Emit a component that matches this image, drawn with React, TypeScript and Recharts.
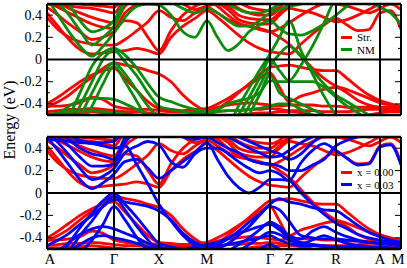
import React from 'react';
import { LineChart, Line, XAxis, YAxis, ReferenceLine, Legend } from 'recharts';

// k-path sample points (segments: A-Γ | Γ-X | X-M | M-Γ | Γ-Z | Z-R | R-A | A-M)
const K_PATH = [
  0, 11, 22, 33, 45, 56, 67,
  78, 90, 101, 112,
  124, 136, 148, 160,
  170.5, 181, 191.5, 202, 212.5, 223,
  232.5, 242,
  254, 265.5, 277, 289,
  300, 311, 322, 333,
  343.5, 354,
];
const K_TICKS = [0, 67, 112, 160, 223, 242, 289, 333, 354];
const K_LABELS = ['A', 'Γ', 'X', 'M', 'Γ', 'Z', 'R', 'A', 'M'];
const Y_TICKS = [-0.4, -0.3, -0.2, -0.1, 0, 0.1, 0.2, 0.3, 0.4];

const TOP_LEGEND = ['Str.', 'NM'];
const BOTTOM_LEGEND = ['x = 0.00', 'x = 0.03'];

// "Str." / x = 0.00 bands (red)
const STR_BANDS: number[][] = [
  [-0.49,-0.49,-0.48,-0.48,-0.47,-0.48,-0.49, -0.5,-0.51,-0.53,-0.55, -0.56,-0.56,-0.55,-0.54, -0.53,-0.51,-0.5,-0.49,-0.48,-0.48, -0.47,-0.47, -0.48,-0.5,-0.52,-0.55, -0.55,-0.53,-0.5,-0.48, -0.47,-0.47],
  [-0.47,-0.46,-0.45,-0.45,-0.44,-0.45,-0.46, -0.47,-0.47,-0.48,-0.49, -0.5,-0.5,-0.49,-0.48, -0.47,-0.46,-0.46,-0.45,-0.45,-0.44, -0.45,-0.46, -0.46,-0.46,-0.47,-0.47, -0.47,-0.46,-0.45,-0.45, -0.46,-0.47],
  [-0.42,-0.42,-0.41,-0.39,-0.34,-0.36,-0.42, -0.44,-0.45,-0.45,-0.46, -0.47,-0.47,-0.47,-0.46, -0.43,-0.41,-0.4,-0.39,-0.4,-0.41, -0.42,-0.41, -0.41,-0.41,-0.42,-0.42, -0.43,-0.43,-0.43,-0.43, -0.44,-0.45],
  [-0.4,-0.34,-0.27,-0.2,-0.14,-0.1,-0.08, -0.17,-0.28,-0.38,-0.44, -0.45,-0.46,-0.45,-0.44, -0.4,-0.35,-0.29,-0.23,-0.17,-0.12, -0.25,-0.38, -0.33,-0.3,-0.27,-0.25, -0.3,-0.37,-0.41,-0.43, -0.43,-0.44],
  [-0.43,-0.38,-0.32,-0.24,-0.16,-0.08,-0.03, -0.05,-0.07,-0.1,-0.13, -0.2,-0.32,-0.41,-0.46, -0.44,-0.38,-0.3,-0.22,-0.14,-0.07, -0.06,-0.05, -0.07,-0.09,-0.1,-0.1, -0.17,-0.25,-0.32,-0.37, -0.4,-0.42],
  [0.38,0.27,0.2,0.16,0.14,0.13,0.13, 0.18,0.26,0.34,0.44, 0.38,0.35,0.42,0.47, 0.42,0.36,0.32,0.3,0.28,0.25, 0.2,0.14, 0.03,-0.08,-0.17,-0.24, -0.27,-0.31,-0.35,-0.39, -0.41,-0.43],
  [0.42,0.3,0.18,0.09,0.05,0.06,0.07, 0.08,0.1,0.08,0.05, 0.2,0.3,0.37,0.44, 0.38,0.3,0.22,0.15,0.1,0.07, 0.06,0.05, 0.14,0.23,0.31,0.37, 0.31,0.26,0.27,0.42, 0.44,0.27],
  [0.47,0.4,0.32,0.25,0.18,0.2,0.25, 0.35,0.33,0.2,0.08, 0.26,0.4,0.48,0.52, 0.48,0.4,0.33,0.3,0.27,0.25, 0.28,0.33, 0.4,0.46,0.5,0.5, 0.48,0.45,0.42,0.46, 0.5,0.45],
  [0.52,0.47,0.42,0.37,0.32,0.29,0.28, 0.42,0.5,0.55,0.55, 0.55,0.5,0.45,0.48, 0.5,0.45,0.36,0.33,0.32,0.32, 0.4,0.46, 0.44,0.42,0.38,0.34, 0.36,0.4,0.45,0.5, 0.52,0.5],
  [0.56,0.52,0.46,0.42,0.38,0.35,0.33, 0.48,0.55,0.6,0.6, 0.6,0.6,0.58,0.56, 0.52,0.48,0.4,0.37,0.36,0.36, 0.42,0.5, 0.52,0.55,0.55,0.55, 0.55,0.52,0.5,0.52, 0.55,0.55],
  [0.5,0.49,0.48,0.47,0.46,0.44,0.42, 0.55,0.6,0.6,0.6, 0.6,0.6,0.6,0.6, 0.58,0.53,0.46,0.42,0.4,0.4, 0.45,0.48, 0.55,0.6,0.6,0.6, 0.6,0.6,0.55,0.55, 0.6,0.6],
  [0.62,0.57,0.52,0.5,0.49,0.48,0.47, 0.6,0.65,0.65,0.65, 0.65,0.65,0.65,0.65, 0.62,0.6,0.52,0.47,0.45,0.44, 0.47,0.55, 0.6,0.6,0.6,0.6, 0.6,0.6,0.6,0.6, 0.6,0.6],
];

// "NM" bands (green)
const NM_BANDS: number[][] = [
  [-0.95,-0.75,-0.52,-0.3,-0.06,0.06,0.1, 0.04,-0.08,-0.22,-0.34, -0.38,-0.42,-0.45,-0.47, -0.52,-0.58,-0.42,-0.26,-0.1,0.05, 0.2,0.35, 0.08,-0.13,-0.33,-0.5, -0.6,-0.6,-0.6,-0.6, -0.6,-0.6],
  [-1.0,-0.85,-0.64,-0.42,-0.2,0.0,0.08, -0.02,-0.15,-0.3,-0.42, -0.45,-0.47,-0.48,-0.49, -0.55,-0.65,-0.5,-0.34,-0.17,0.0, -0.1,-0.19, -0.05,0.12,0.33,0.55, 0.6,0.6,0.6,0.6, 0.6,0.6],
  [-1.1,-0.95,-0.75,-0.52,-0.3,-0.12,-0.03, -0.13,-0.28,-0.42,-0.52, -0.55,-0.55,-0.55,-0.55, -0.6,-0.7,-0.58,-0.42,-0.24,-0.06, 0.05,0.12, 0.03,-0.1,-0.22,-0.32, -0.38,-0.44,-0.5,-0.55, -0.6,-0.6],
  [0.55,0.4,0.25,0.12,0.03,0.12,0.24, 0.38,0.48,0.5,0.49, 0.4,0.25,0.2,0.35, 0.2,0.08,0.14,0.25,0.31,0.35, 0.28,0.23, 0.22,0.26,0.32,0.4, 0.48,0.55,0.6,0.6, 0.6,0.6],
  [0.65,0.52,0.4,0.26,0.13,0.2,0.3, 0.5,0.6,0.65,0.6, 0.52,0.46,0.42,0.46, 0.42,0.35,0.3,0.3,0.35,0.42, 0.45,0.48, 0.5,0.55,0.6,0.6, 0.6,0.58,0.52,0.47, 0.42,0.32],
  [-0.6,-0.5,-0.42,-0.37,-0.35,-0.35,-0.36, -0.4,-0.45,-0.5,-0.55, -0.55,-0.53,-0.5,-0.48, -0.45,-0.4,-0.37,-0.35,-0.3,-0.19, -0.2,-0.2, -0.2,-0.2,-0.25,-0.34, -0.42,-0.48,-0.55,-0.6, -0.6,-0.6],
  [-1.2,-1.0,-0.8,-0.6,-0.42,-0.22,-0.06, -0.2,-0.38,-0.55,-0.7, -0.7,-0.7,-0.7,-0.7, -0.8,-0.78,-0.66,-0.5,-0.32,-0.14, -0.3,-0.35, -0.4,-0.45,-0.5,-0.55, -0.6,-0.6,-0.6,-0.6, -0.6,-0.6],
  [-0.5,-0.48,-0.47,-0.46,-0.46,-0.47,-0.48, -0.49,-0.5,-0.52,-0.55, -0.55,-0.52,-0.5,-0.48, -0.47,-0.46,-0.46,-0.45,-0.44,-0.42, -0.4,-0.4, -0.45,-0.5,-0.55,-0.6, -0.6,-0.6,-0.6,-0.6, -0.6,-0.6],
  [0.8,0.65,0.5,0.35,0.25,0.28,0.35, 0.55,0.65,0.7,0.7, 0.7,0.7,0.7,0.7, 0.55,0.5,0.45,0.42,0.42,0.45, 0.5,0.55, 0.6,0.6,0.6,0.6, 0.6,0.6,0.6,0.6, 0.6,0.6],
];

// x = 0.03 bands (blue)
const X003_BANDS: number[][] = [
  [-0.7,-0.58,-0.45,-0.31,-0.18,-0.07,0.0, -0.1,-0.22,-0.34,-0.45, -0.48,-0.5,-0.52,-0.53, -0.5,-0.45,-0.38,-0.3,-0.2,-0.1, -0.05,-0.08, -0.1,-0.13,-0.15,-0.16, -0.22,-0.29,-0.35,-0.39, -0.42,-0.44],
  [-0.76,-0.65,-0.52,-0.38,-0.25,-0.12,-0.03, -0.15,-0.3,-0.42,-0.52, -0.55,-0.55,-0.55,-0.55, -0.55,-0.52,-0.46,-0.4,-0.33,-0.26, -0.3,-0.38, -0.41,-0.34,-0.3,-0.35, -0.39,-0.42,-0.44,-0.45, -0.46,-0.47],
  [-0.47,-0.42,-0.36,-0.28,-0.2,-0.12,-0.06, -0.08,-0.1,-0.12,-0.16, -0.24,-0.36,-0.44,-0.48, -0.46,-0.41,-0.34,-0.26,-0.19,-0.12, -0.15,-0.25, -0.38,-0.4,-0.41,-0.41, -0.42,-0.43,-0.44,-0.45, -0.46,-0.47],
  [-0.58,-0.52,-0.44,-0.37,-0.32,-0.3,-0.32, -0.36,-0.4,-0.45,-0.48, -0.5,-0.5,-0.48,-0.46, -0.44,-0.4,-0.36,-0.33,-0.3,-0.28, -0.33,-0.4, -0.44,-0.46,-0.47,-0.48, -0.48,-0.48,-0.48,-0.48, -0.49,-0.5],
  [-0.6,-0.56,-0.52,-0.46,-0.4,-0.38,-0.4, -0.42,-0.45,-0.48,-0.5, -0.52,-0.52,-0.52,-0.5, -0.48,-0.46,-0.44,-0.42,-0.4,-0.38, -0.42,-0.45, -0.47,-0.47,-0.48,-0.49, -0.5,-0.5,-0.5,-0.5, -0.5,-0.5],
  [0.5,0.38,0.25,0.12,0.04,0.09,0.17, 0.28,0.3,0.22,0.13, 0.2,0.28,0.36,0.45, 0.3,0.15,0.05,0.0,0.05,0.12, 0.12,0.11, 0.0,-0.1,-0.19,-0.27, -0.32,-0.37,-0.4,-0.42, -0.44,-0.46],
  [0.55,0.45,0.34,0.22,0.12,0.15,0.22, 0.36,0.42,0.46,0.43, 0.28,0.23,0.35,0.4, 0.4,0.35,0.28,0.22,0.18,0.2, 0.17,0.11, 0.27,0.38,0.44,0.38, 0.31,0.25,0.26,0.41, 0.43,0.25],
  [0.6,0.5,0.42,0.32,0.24,0.24,0.26, 0.45,0.55,0.6,0.6, 0.55,0.5,0.48,0.5, 0.45,0.4,0.36,0.3,0.27,0.26, 0.24,0.2, 0.2,0.25,0.3,0.42, 0.47,0.5,0.52,0.55, 0.55,0.55],
  [0.66,0.56,0.48,0.4,0.35,0.33,0.3, 0.5,0.62,0.65,0.65, 0.65,0.65,0.65,0.65, 0.55,0.5,0.45,0.4,0.36,0.32, 0.33,0.38, 0.45,0.5,0.55,0.6, 0.6,0.6,0.6,0.6, 0.6,0.6],
  [0.48,0.47,0.46,0.45,0.44,0.42,0.4, 0.42,0.25,0.08,-0.1, -0.25,-0.38,-0.47,-0.52, -0.56,-0.56,-0.56,-0.54,-0.5,-0.46, -0.5,-0.53, -0.56,-0.56,-0.56,-0.56, -0.56,-0.56,-0.56,-0.56, -0.56,-0.56],
  [-0.88,-0.78,-0.66,-0.54,-0.42,-0.28,-0.12, -0.24,-0.4,-0.52,-0.6, -0.6,-0.6,-0.6,-0.6, -0.6,-0.58,-0.52,-0.46,-0.4,-0.35, -0.37,-0.42, -0.45,-0.42,-0.38,-0.42, -0.45,-0.47,-0.48,-0.5, -0.5,-0.5],
  [0.7,0.6,0.52,0.47,0.45,0.45,0.46, 0.6,0.7,0.7,0.7, 0.7,0.7,0.7,0.7, 0.62,0.55,0.5,0.46,0.42,0.38, 0.35,0.3, 0.35,0.45,0.52,0.6, 0.6,0.6,0.6,0.6, 0.6,0.6],
];

const RED = '#ff0000';
const GREEN = '#0a8c0a';
const BLUE = '#0000ff';
const FONT = '"Liberation Serif", "Times New Roman", serif';
const PLOT_L = 47;
const PLOT_R = 401;

const toData = (band: number[]) => K_PATH.map((k, i) => ({ k, e: band[i] }));

const YTick = (props: any) => {
  const { x, y, payload } = props;
  const v = payload.value as number;
  const major = Math.abs(Math.round(v * 10)) % 2 === 0;
  const len = major ? 6 : 3;
  const label = Math.abs(v) < 1e-9 ? '0' : v.toFixed(1);
  return (
    <g>
      {major && (
        <text x={x} y={y} dy={4.5} textAnchor="end" fontSize={14} fontFamily={FONT} fill="#000">
          {label}
        </text>
      )}
      <line x1={PLOT_L} x2={PLOT_L + len} y1={y} y2={y} stroke="#000" strokeWidth={1} />
      <line x1={PLOT_R - len} x2={PLOT_R} y1={y} y2={y} stroke="#000" strokeWidth={1} />
    </g>
  );
};

const XTick = (props: any) => {
  const { x, y, payload, index } = props;
  const i = typeof index === 'number' ? index : K_TICKS.indexOf(payload.value);
  const shift = i === 0 ? 3 : i === K_TICKS.length - 1 ? -3 : 0;
  return (
    <text x={x + shift} y={y} dy={10} textAnchor="middle" fontSize={15} fontFamily={FONT} fill="#000">
      {K_LABELS[i] ?? ''}
    </text>
  );
};

const LegendBox = ({ items }: { items: { label: string; color: string }[] }) => (
  <div style={{ fontFamily: FONT, fontSize: 11, color: '#000' }}>
    {items.map((it) => (
      <div key={it.label} style={{ display: 'flex', alignItems: 'center', height: 12.5, lineHeight: '12.5px', whiteSpace: 'nowrap' }}>
        <span style={{ display: 'inline-block', width: 11, height: 3, background: it.color, marginRight: 5 }} />
        <span style={{ lineHeight: '12px' }}>{it.label}</span>
      </div>
    ))}
  </div>
);

type PanelProps = {
  top: number;
  height: number;
  marginTop: number;
  marginBottom: number;
  showX: boolean;
  series: { bands: number[][]; color: string; name: string }[];
  legendTop: number;
};

const Panel = ({ top, height, marginTop, marginBottom, showX, series, legendTop }: PanelProps) => (
  <div style={{ position: 'absolute', left: 0, top, width: 407, height }}>
    <LineChart width={407} height={height} margin={{ top: marginTop, right: 6, left: 0, bottom: marginBottom }}>
      <XAxis
        type="number"
        dataKey="k"
        domain={[0, 354]}
        ticks={K_TICKS}
        allowDataOverflow
        hide={!showX}
        height={19}
        interval={0}
        tickLine={false}
        axisLine={false}
        tickSize={3}
        tickMargin={2}
        tick={<XTick />}
      />
      <YAxis
        type="number"
        domain={[-0.5, 0.5]}
        allowDataOverflow
        ticks={Y_TICKS}
        interval={0}
        width={47}
        tickSize={3}
        tickMargin={2}
        tickLine={false}
        axisLine={false}
        tick={<YTick />}
      />
      {series.flatMap((s) =>
        s.bands.map((b, i) => (
          <Line
            key={`${s.name}-${i}`}
            data={toData(b)}
            dataKey="e"
            type="monotone"
            stroke={s.color}
            strokeWidth={2.8}
            dot={false}
            activeDot={false}
            isAnimationActive={false}
            legendType="none"
          />
        ))
      )}
      {K_TICKS.map((k) => (
        <ReferenceLine key={`v${k}`} x={k} stroke="#000" strokeWidth={2} />
      ))}
      <ReferenceLine y={0} stroke="#000" strokeWidth={2} />
      <ReferenceLine y={0.5} stroke="#000" strokeWidth={2.5} />
      <ReferenceLine y={-0.5} stroke="#000" strokeWidth={2.5} />
      <Legend
        layout="vertical"
        align="center"
        verticalAlign="middle"
        width={60}
        wrapperStyle={{ left: 341, top: legendTop, width: 60 }}
        content={() => <LegendBox items={series.map((s) => ({ label: s.name, color: s.color }))} />}
      />
    </LineChart>
  </div>
);

export default function App() {
  return (
    <div style={{ position: 'absolute', left: 0, top: 0, width: 407, height: 268, background: '#fff', overflow: 'hidden' }}>
      <Panel
        top={0}
        height={120}
        marginTop={4}
        marginBottom={5}
        showX={false}
        legendTop={31}
        series={[
          { bands: STR_BANDS, color: RED, name: TOP_LEGEND[0] },
          { bands: NM_BANDS, color: GREEN, name: TOP_LEGEND[1] },
        ]}
      />
      <Panel
        top={130}
        height={138}
        marginTop={7}
        marginBottom={0}
        showX={true}
        legendTop={36}
        series={[
          { bands: STR_BANDS, color: RED, name: BOTTOM_LEGEND[0] },
          { bands: X003_BANDS, color: BLUE, name: BOTTOM_LEGEND[1] },
        ]}
      />
      <svg width={22} height={268} style={{ position: 'absolute', left: 0, top: 0 }}>
        <text transform="translate(15,120) rotate(-90)" textAnchor="middle" fontSize={16} fontFamily={FONT} fill="#000">
          Energy (eV)
        </text>
      </svg>
    </div>
  );
}
